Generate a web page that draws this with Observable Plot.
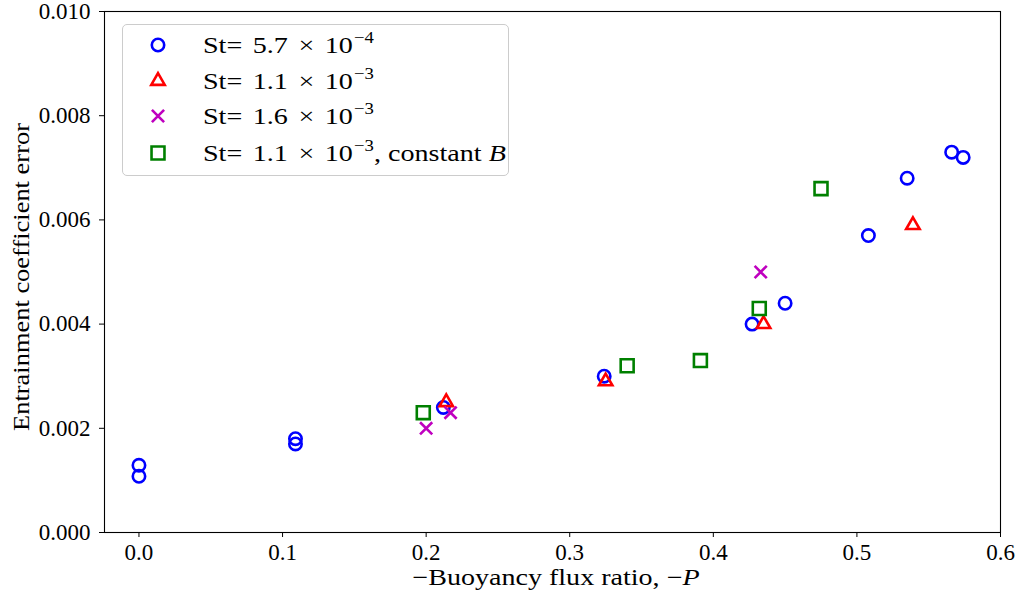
<!DOCTYPE html>
<html>
<head>
<meta charset="utf-8">
<script src="https://cdn.jsdelivr.net/npm/d3@7"></script>
<script src="https://cdn.jsdelivr.net/npm/@observablehq/plot@0.6"></script>
<style>
  html, body { margin: 0; padding: 0; background: white; }
  #wrap { position: relative; width: 1021px; height: 602px; font-family: "Liberation Serif", serif; color: black; }
  .lab { position: absolute; font-size: 23px; line-height: 0.8; white-space: nowrap; }
  #legend { position: absolute; left: 122px; top: 24px; width: 387px; height: 152px; box-sizing: border-box;
            border: 1px solid #cccccc; border-radius: 5px; background: rgba(255,255,255,0.8); }
  .row { position: absolute; left: 0; height: 30px; width: 100%; }
  .row svg { position: absolute; left: 20px; top: 0; }
  .row .t { position: absolute; left: 80px; top: 0; line-height: 30px; font-size: 24px; white-space: nowrap;
            display: inline-block; transform: scaleX(1.17); transform-origin: left center; }
  sup { font-size: 16px; vertical-align: 0; position: relative; top: -10px; margin-left: 1px; }
  .sp { display: inline-block; width: 3px; }
</style>
</head>
<body>
<div id="wrap"></div>
<script>
// ---- data ----
const seriesLabels = [
  "St=<span class='sp'></span> 5.7<span class='sp'></span> × <span class='sp'></span>10<sup>−4</sup>",
  "St=<span class='sp'></span> 1.1<span class='sp'></span> × <span class='sp'></span>10<sup>−3</sup>",
  "St=<span class='sp'></span> 1.6<span class='sp'></span> × <span class='sp'></span>10<sup>−3</sup>",
  "St=<span class='sp'></span> 1.1<span class='sp'></span> × <span class='sp'></span>10<sup>−3</sup>, constant <i>B</i>"
];
const seriesColors = ["#0000ff", "#ff0000", "#bf00bf", "#008000"];
const seriesSymbols = ["circle", "triangle", "times", "square"];

const blueX = [0.0, 0.0, 0.109, 0.109, 0.212, 0.324, 0.427, 0.450, 0.508, 0.535, 0.566, 0.574];
const blueY = [0.00129, 0.00108, 0.00180, 0.00170, 0.00240, 0.00300, 0.00400, 0.00440, 0.00570, 0.00680, 0.00730, 0.00720];
const redX = [0.214, 0.325, 0.435, 0.539];
const redY = [0.00250, 0.00290, 0.00400, 0.00590];
const magX = [0.200, 0.217, 0.433];
const magY = [0.00200, 0.00230, 0.00500];
const greenX = [0.198, 0.340, 0.391, 0.432, 0.475];
const greenY = [0.00230, 0.00320, 0.00330, 0.00430, 0.00660];

const xTicks = [0, 0.1, 0.2, 0.3, 0.4, 0.5, 0.6];
const yTicks = [0, 0.002, 0.004, 0.006, 0.008, 0.010];

// ---- build ----
const toRows = (xs, ys) => xs.map((x, i) => ({x, y: ys[i]}));
const seriesData = [toRows(blueX, blueY), toRows(redX, redY), toRows(magX, magY), toRows(greenX, greenY)];
const radii = [6.2, 5.0, 5.6, 7.3];

const chart = Plot.plot({
  width: 1021, height: 602,
  marginLeft: 104, marginRight: 21, marginTop: 11, marginBottom: 70,
  style: {fontFamily: "Liberation Serif, serif", fontSize: "23px", color: "black", background: "white", overflow: "visible"},
  x: {domain: [-0.024, 0.6]},
  y: {domain: [0, 0.01]},
  marks: [
    Plot.frame({stroke: "black", strokeWidth: 1.1}),
    Plot.axisX({ticks: xTicks, tickFormat: d3.format(".1f"), tickSize: 5, tickPadding: 6, label: null, fontSize: 23}),
    Plot.axisY({ticks: yTicks, tickFormat: d3.format(".3f"), tickSize: 5, tickPadding: 9, label: null, fontSize: 23}),
    ...seriesData.map((data, k) => Plot.dot(data, {
      x: "x", y: "y", symbol: seriesSymbols[k], r: radii[k],
      stroke: seriesColors[k], strokeWidth: 2.6, fill: "none"
    }))
  ]
});

const wrap = document.getElementById("wrap");
wrap.appendChild(chart);

// axis titles
const xl = document.createElement("div");
xl.className = "lab";
xl.style.left = "556px"; xl.style.top = "569px"; xl.style.transform = "translateX(-50%) scaleX(1.22)";
xl.innerHTML = "−Buoyancy flux ratio, −<i>P</i>";
wrap.appendChild(xl);

const yl = document.createElement("div");
yl.className = "lab";
yl.style.left = "22px"; yl.style.top = "277px"; yl.style.transform = "translate(-50%,-50%) rotate(-90deg) scaleX(1.15)";
yl.textContent = "Entrainment coefficient error";
wrap.appendChild(yl);

// legend
const legend = document.createElement("div");
legend.id = "legend";
const rowCenters = [19.5, 55.5, 90.5, 127.5];
const symTypes = {circle: d3.symbolCircle, triangle: d3.symbolTriangle, times: d3.symbolTimes, square: d3.symbolSquare};
seriesLabels.forEach((lab, k) => {
  const row = document.createElement("div");
  row.className = "row";
  row.style.top = (rowCenters[k] - 15) + "px";
  const path = d3.symbol(symTypes[seriesSymbols[k]], Math.PI * radii[k] * radii[k])();
  row.innerHTML = `<svg width="30" height="30" viewBox="-15 -15 30 30"><path d="${path}" fill="none" stroke="${seriesColors[k]}" stroke-width="2.6"/></svg><span class="t">${lab}</span>`;
  legend.appendChild(row);
});
wrap.appendChild(legend);
</script>
</body>
</html>
